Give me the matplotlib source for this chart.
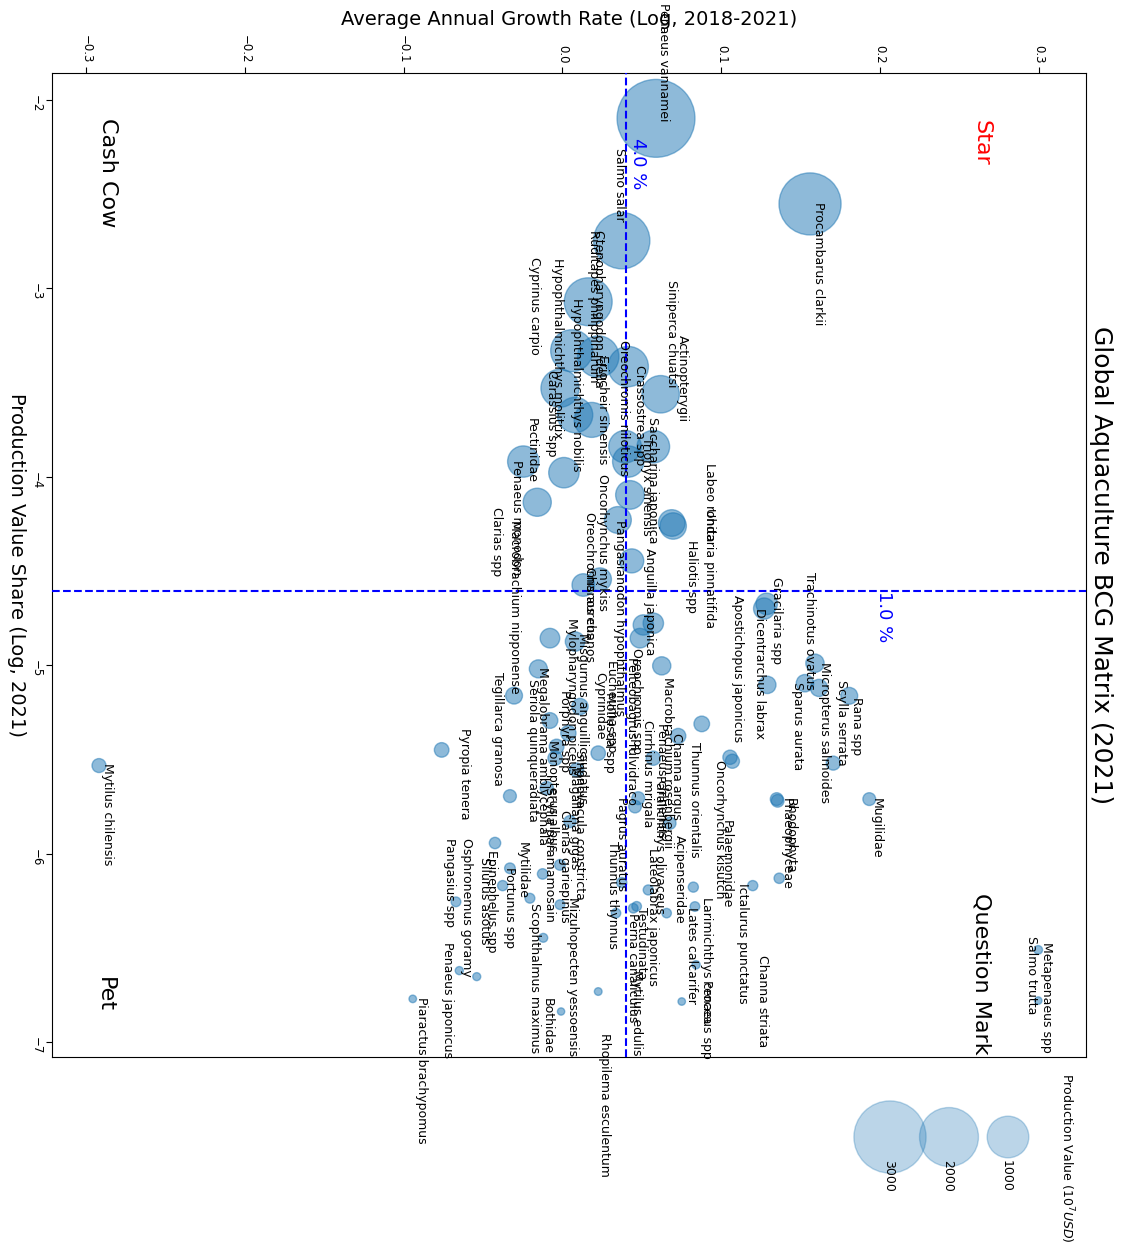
import numpy as np
import matplotlib
matplotlib.use("Agg")
import matplotlib.pyplot as plt

# ---------------- data ----------------
species = [
    "Penaeus vannamei", "Salmo salar", "Procambarus clarkii", "Ctenopharyngodon idella",
    "Ruditapes philippinarum", "Hypophthalmichthys molitrix", "Cyprinus carpio",
    "Hypophthalmichthys nobilis", "Eriocheir sinensis", "Oreochromis niloticus",
    "Crassostrea spp", "Actinopterygii", "Siniperca chuatsi", "Saccharina japonica",
    "Trionyx sinensis", "Carassius spp", "Pectinidae", "Oncorhynchus mykiss",
    "Penaeus monodon", "Macrobrachium nipponense", "Clarias spp", "Labeo rohita",
    "Undaria pinnatifida", "Haliotis spp", "Anguilla japonica",
    "Pangasianodon hypophthalmus", "Oreochromis aureus", "Chanos chanos",
    "Oreochromis spp", "Macrobrachium rosenbergii", "Penaeus chinensis", "Channa argus",
    "Cirrhinus mrigala", "Thunnus orientalis", "Oncorhynchus kisutch", "Palaemonidae",
    "Pelteobagrus fulvidraco", "Pagrus auratus", "Paralichthys olivaceus", "Acipenseridae",
    "Lateolabrax japonicus", "Testudinata", "Perna canaliculus", "Mytilus edulis",
    "Thunnus thynnus", "Lates calcarifer", "Larimichthys crocea", "Penaeus spp",
    "Ictalurus punctatus", "Channa striata", "Phaeophyceae", "Rhodophyta", "Mugilidae",
    "Metapenaeus spp", "Salmo trutta", "Gracilaria spp", "Dicentrarchus labrax",
    "Apostichopus japonicus", "Trachinotus ovatus", "Micropterus salmoides",
    "Sparus aurata", "Scylla serrata", "Rana spp", "Mytilus chilensis", "Pyropia tenera",
    "Tegillarca granosa", "Seriola quinqueradiata", "Megalobrama amblycephala",
    "Porphyra spp", "Mylopharyngodon piceus", "Misgurnus anguillicaudatus", "Cyprinidae",
    "Eucheuma spp", "Mollusca spp", "Monopterus albus", "Scylla paramamosain",
    "Sinonovacula constricta", "Magallana gigas", "Clarias gariepinus",
    "Mizuhopecten yessoensis", "Mytilidae", "Portunus spp", "Epinephelus spp",
    "Silurus asotus", "Osphronemus goramy", "Pangasius spp", "Penaeus japonicus",
    "Piaractus brachypomus", "Scophthalmus maximus", "Bothidae", "Rhopilema esculentum",
]

# average annual growth rate (log, 2018-2021)
growth = [
    0.0589, 0.0373, 0.1559, 0.0162, 0.0225, 0.0058, -0.0016, 0.0079, 0.0184, 0.0414,
    0.0394, 0.0618, 0.0425, 0.0572, 0.0414, 0.0009, -0.0247, 0.0349, -0.0159, -0.0079,
    -0.0331, 0.0688, 0.0697, 0.0509, 0.0572, 0.0436, 0.0131, 0.0236, 0.0488, 0.0625,
    0.0656, 0.0729, 0.0572, 0.0877, 0.1055, 0.1070, 0.0477, 0.0457, 0.0677, 0.0824,
    0.0540, 0.0467, 0.0446, 0.0337, 0.0373, 0.0834, 0.0841, 0.0751, 0.1198, 0.1365,
    0.1349, 0.1355, 0.1932, 0.2996, 0.2996, 0.1286, 0.1290, 0.1270, 0.1590, 0.1615,
    0.1527, 0.1705, 0.1806, -0.2919, -0.0761, -0.0305, -0.0152, -0.0079, 0.0037, 0.0079,
    0.0110, 0.0225, 0.0089, -0.0037, -0.0047, -0.0099, 0.0047, -0.0125, -0.0016, -0.0016,
    -0.0205, -0.0331, -0.0425, -0.0377, -0.0650, -0.0671, -0.0540, -0.0943, -0.0121,
    -0.0009, 0.0225,
]

# production value share (natural log, 2021)
share = [
    -2.099, -2.748, -2.553, -3.072, -3.363, -3.332, -3.531, -3.673, -3.699, -3.416,
    -3.841, -3.563, -4.097, -3.841, -3.920, -3.979, -3.920, -4.230, -4.136, -4.857,
    -5.695, -4.246, -4.262, -4.787, -4.778, -4.447, -4.575, -4.545, -4.857, -5.004,
    -6.316, -5.376, -5.494, -5.312, -5.489, -5.510, -5.706, -5.751, -5.839, -6.178,
    -6.193, -6.280, -6.290, -6.316, -6.154, -6.281, -6.590, -6.785, -6.170, -6.131,
    -5.711, -5.720, -5.711, -6.511, -6.780, -4.675, -5.105, -4.700, -4.990, -5.121,
    -5.096, -5.520, -5.163, -5.533, -5.450, -5.162, -5.020, -5.294, -5.361, -4.875,
    -5.220, -5.467, -5.556, -5.432, -5.494, -5.653, -5.830, -6.108, -6.060, -6.271,
    -6.237, -6.078, -5.944, -6.170, -6.621, -6.256, -6.653, -6.771, -6.447,
    -6.838, -6.732,
]

# where each name label was placed (label anchor, data units)
label_growth = [
    0.0614, 0.0337, 0.1590, 0.0205, 0.0173, -0.0054, -0.0198, 0.0066, 0.0230, 0.0362,
    0.0463, 0.0734, 0.0664, 0.0545, 0.0507, -0.0091, -0.0217, 0.0230, -0.0312, -0.0324,
    -0.0438, 0.0904, 0.0904, 0.0790, 0.0526, 0.0337, 0.0148, 0.0148, 0.0444, 0.0639,
    0.0601, 0.0696, 0.0513, 0.0809, 0.0967, 0.1011, 0.0412, 0.0349, 0.0589, 0.0715,
    0.0545, 0.0475, 0.0419, 0.0444, 0.0293, 0.0790, 0.0885, 0.0885, 0.1111, 0.1237,
    0.1389, 0.1414, 0.1955, 0.3026, 0.2931, 0.1326, 0.1219, 0.1080, 0.1533, 0.1628,
    0.1458, 0.1735, 0.1829, -0.2887, -0.0639, -0.0431, -0.0211, -0.0148, -0.0009, 0.0035,
    0.0104, 0.0211, 0.0287, 0.0274, -0.0085, -0.0104, 0.0085, 0.0054, -0.0009, 0.0041,
    -0.0274, -0.0356, -0.0469, -0.0513, -0.0627, -0.0734, -0.0746, -0.0910, -0.0198,
    -0.0117, 0.0242,
]
label_share = [
    -1.487, -2.256, -2.543, -2.691, -2.691, -2.840, -2.835, -3.052, -3.354, -3.274,
    -3.407, -3.248, -2.956, -3.682, -3.788, -3.434, -3.689, -3.986, -3.912, -4.229,
    -4.159, -3.927, -4.167, -4.336, -4.378, -4.230, -4.186, -4.479, -4.909, -5.063,
    -5.307, -5.361, -5.291, -5.406, -5.503, -5.821, -4.955, -5.700, -5.582, -5.899,
    -5.969, -6.282, -6.314, -6.617, -5.935, -6.281, -6.228, -6.670, -6.155, -6.537,
    -5.705, -5.705, -5.705, -6.467, -6.440, -4.530, -4.697, -4.628, -4.504, -4.981,
    -5.088, -5.079, -5.167, -5.520, -5.333, -5.034, -5.076, -5.008, -5.130, -4.750,
    -4.829, -5.036, -4.973, -5.143, -5.397, -5.646, -5.450, -5.540, -5.769, -6.231,
    -5.938, -6.070, -5.980, -6.017, -5.917, -5.917, -6.467, -6.759, -6.262,
    -6.766, -6.951,
]

total_value = 28500          # world aquaculture production value, 10^7 USD
growth_cut = 0.04            # 4.0 % growth threshold
share_cut = np.log(0.01)     # 1.0 % share threshold
legend_values = [3000, 2000, 1000]
x_ticks = [-0.3, -0.2, -0.1, 0.0, 0.1, 0.2, 0.3]
y_ticks = [-7, -6, -5, -4, -3, -2]

# ---------------- style / layout ----------------
size_scale = 0.9
bubble_color = "#1f77b4"

fig = plt.figure(figsize=(11.25, 12.47), dpi=100)
ax = fig.add_axes([0.04649, 0.15212, 0.91858, 0.78909])

value = total_value * np.exp(np.array(share))
ax.scatter(growth, share, s=value * size_scale, color=bubble_color, alpha=0.5, zorder=2)
ax.axvline(growth_cut, color="blue", ls="--", lw=1.5, zorder=3)
ax.axhline(share_cut, color="blue", ls="--", lw=1.5, zorder=3)

for name, lx, ly in zip(species, label_growth, label_share):
    ax.text(lx, ly, name, rotation=270, rotation_mode="anchor", ha="left",
            va="baseline", fontsize=9, zorder=4)

ax.text(0.0444, -2.205, "4.0 %", color="blue", fontsize=13, rotation=270,
        rotation_mode="anchor", ha="left", va="baseline", zorder=4)
ax.text(0.1995, share_cut, "1.0 %", color="blue", fontsize=13, rotation=270,
        rotation_mode="anchor", ha="left", va="baseline", zorder=4)

ax.set_xlim(-0.3213, 0.3295)
ax.set_ylim(-7.081, -1.860)
ax.set_xticks(x_ticks)
ax.set_yticks(y_ticks)
ax.xaxis.tick_top()
ax.xaxis.set_label_position("top")
ax.tick_params(axis="x", labelrotation=270, labelsize=8.5, length=4.5, pad=2.5)
ax.tick_params(axis="y", labelrotation=270, labelsize=8.5, length=4.5, pad=2.5)

ax.set_xlabel("Average Annual Growth Rate (Log, 2018-2021)", fontsize=14)
ax.xaxis.set_label_coords(0.5, 1.0491)
ax.set_ylabel("Production Value Share (Log, 2021)", fontsize=14, rotation=270,
              va="bottom", ha="center", rotation_mode="anchor")
ax.yaxis.set_label_coords(-0.044, 0.5)

ax.text(1.0032, 0.5, "Global Aquaculture BCG Matrix (2021)", transform=ax.transAxes,
        rotation=270, ha="left", va="center", fontsize=18)

ax.text(0.0542, 0.9543, "Cash Cow", transform=ax.transAxes, rotation=270,
        ha="center", va="top", fontsize=16)
ax.text(0.8993, 0.9526, "Star", transform=ax.transAxes, rotation=270,
        ha="center", va="top", fontsize=16, color="red")
ax.text(0.8993, 0.0023, "Question Mark", transform=ax.transAxes, rotation=270,
        ha="center", va="bottom", fontsize=16)
ax.text(0.051, 0.0816, "Pet", transform=ax.transAxes, rotation=270,
        ha="center", va="top", fontsize=16)

# ---------------- size legend (pixel overlay) ----------------
lax = fig.add_axes([0, 0, 1, 1], zorder=5)
lax.set_xlim(0, 1125)
lax.set_ylim(1247, 0)
lax.axis("off")
legend_x = [890, 949, 1008]
lax.scatter(legend_x, [1137] * len(legend_values),
            s=np.array(legend_values) * size_scale, color=bubble_color, alpha=0.3)
for v, lx in zip(legend_values, legend_x):
    lax.text(lx - 5, 1160, str(v), rotation=270, rotation_mode="anchor",
             ha="left", va="baseline", fontsize=9)
lax.text(1062, 1073, r"Production Value ($10^7 USD$)", rotation=270,
         rotation_mode="anchor", ha="left", va="baseline", fontsize=9)

fig.savefig("out.png", dpi=100)
